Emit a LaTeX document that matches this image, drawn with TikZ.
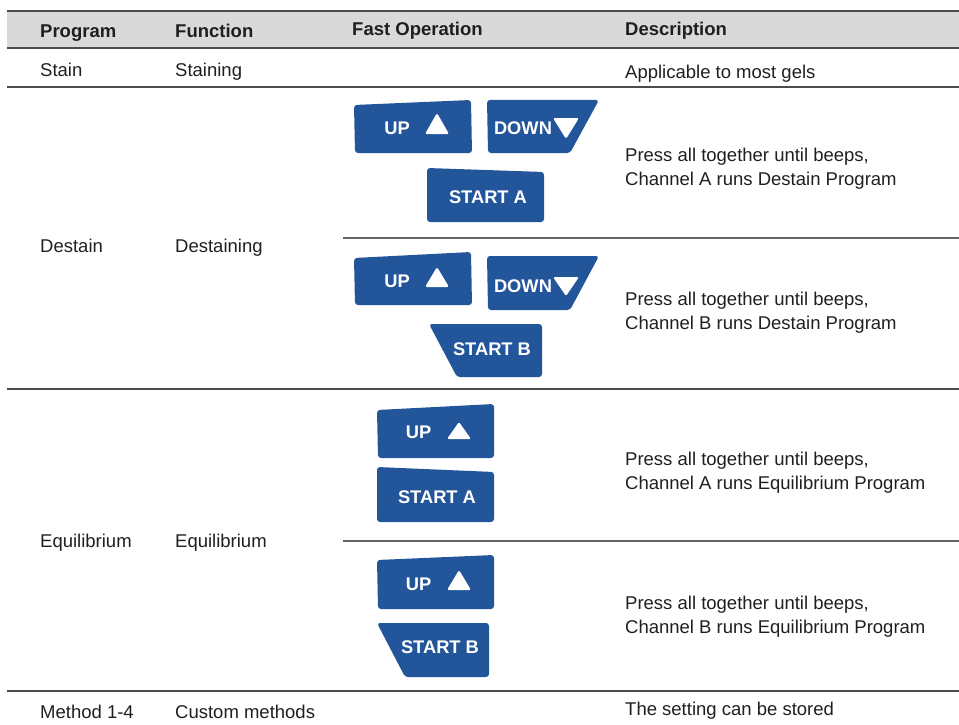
\documentclass[tikz,border=0pt]{standalone}
\usepackage{fontspec}
\setmainfont{Liberation Sans}
\usepackage{xcolor}
\usetikzlibrary{positioning}
\definecolor{keyblue}{RGB}{35,85,155}
\definecolor{headgray}{RGB}{217,217,217}
\definecolor{rulegray}{RGB}{75,75,75}
\newcommand{\cellfont}{\fontsize{18.5}{23.5}\selectfont}
\newcommand{\keyfont}{\fontsize{18.3}{18.3}\selectfont\bfseries}

\tikzset{
	cell/.style={anchor=base west, inner sep=0pt, font=\cellfont, text=black!88},
	head/.style={cell, font=\cellfont\bfseries},
	rule/.style={draw=rulegray, line width=1.5pt},
	subrule/.style={draw=black!60, line width=2pt},
	key/.style={fill=keyblue, rounded corners=3pt},
	keytext/.style={text=white, font=\keyfont, inner sep=0pt},
	tri/.style={fill=white, rounded corners=1.5pt},
}

\begin{document}
\begin{tikzpicture}[x=1pt, y=-1pt]
		
		\useasboundingbox (0,0) rectangle (959,725);
		
		% header band
		\fill[headgray] (7,11) rectangle (959,48);
		\draw[rule] (7,11) -- (959,11);
		\draw[rule] (7,48) -- (959,48);
		
		\node[head] (hprog) at (40,38) {Program};
		\node[head] (hfunc) at (175,38) {Function};
		\node[head] (hfast) at (352,36) {Fast Operation};
		\node[head] (hdesc) at (625,36) {Description};
		
		% row rules
		\draw[rule] (7,87) -- (959,87);
		\draw[subrule] (343,238) -- (959,238);
		\draw[rule] (7,389) -- (959,389);
		\draw[subrule] (343,541) -- (959,541);
		\draw[rule] (7,691) -- (959,691);
		
		% Stain
		\node[cell] (stain) at (40,77) {Stain};
		\node[cell] (staining) at (175,77) {Staining};
		\node[cell] (stdesc) at (625,78) {Applicable to most gels};
		
		% Destain
		\node[cell] (destain) at (40,252) {Destain};
		\node[cell] (destaining) at (175,252) {Destaining};
		\node[cell, align=left] (ddescA) at (625,185) {Press all together until beeps,\\Channel A runs Destain Program};
		\node[cell, align=left] (ddescB) at (625,329) {Press all together until beeps,\\Channel B runs Destain Program};
		
		\path[key] (354,105) -- (471,100) -- (472,153) -- (355,153) -- cycle;
		\node[keytext] (dupA) at (397,128) {UP};
		\path[tri] (425,134) -- (437,113) -- (449,134) -- cycle;
		\path[key] (487,100) -- (599,100) -- (570,153) -- (488,153) -- cycle;
		\node[keytext] (ddownA) at (523,128.5) {DOWN};
		\path[tri] (553,118) -- (579,118) -- (566,139) -- cycle;
		\path[key] (427,168) -- (544,172) -- (544,222) -- (427,222) -- cycle;
		\node[keytext] (dstartA) at (488,197) {START A};
		
		\path[key] (354,258) -- (471,252) -- (472,305) -- (355,305) -- cycle;
		\node[keytext] (dupB) at (397,281) {UP};
		\path[tri] (425,287) -- (437,267) -- (449,287) -- cycle;
		\path[key] (487,256) -- (599,256) -- (570,310) -- (488,310) -- cycle;
		\node[keytext] (ddownB) at (523,286) {DOWN};
		\path[tri] (553,277) -- (579,277) -- (566,296) -- cycle;
		\path[key] (429,324) -- (542,324) -- (542,377) -- (457,377) -- cycle;
		\node[keytext] (dstartB) at (492,349) {START B};
		
		% Equilibrium
		\node[cell] (equi) at (40,547) {Equilibrium};
		\node[cell] (equifunc) at (175,547) {Equilibrium};
		\node[cell, align=left] (edescA) at (625,489) {Press all together until beeps,\\Channel A runs Equilibrium Program};
		\node[cell, align=left] (edescB) at (625,633) {Press all together until beeps,\\Channel B runs Equilibrium Program};
		
		\path[key] (377,410) -- (494,404) -- (494,458) -- (378,458) -- cycle;
		\node[keytext] (eupA) at (418.5,432.5) {UP};
		\path[tri] (447,439) -- (459,422) -- (471,439) -- cycle;
		\path[key] (377,467) -- (494,472) -- (494,522) -- (377,522) -- cycle;
		\node[keytext] (estartA) at (437,497) {START A};
		
		\path[key] (377,560) -- (494,555) -- (494,609) -- (378,609) -- cycle;
		\node[keytext] (eupB) at (418.5,584) {UP};
		\path[tri] (447,590) -- (459,570) -- (471,590) -- cycle;
		\path[key] (377,623) -- (489,623) -- (489,677) -- (405,677) -- cycle;
		\node[keytext] (estartB) at (440,647) {START B};
		
		% Method 1-4
		\node[cell] (method) at (40,718) {Method 1-4};
		\node[cell] (custom) at (175,718) {Custom methods};
		\node[cell] (mdesc) at (625,715) {The setting can be stored};
		
\end{tikzpicture}
\end{document}
